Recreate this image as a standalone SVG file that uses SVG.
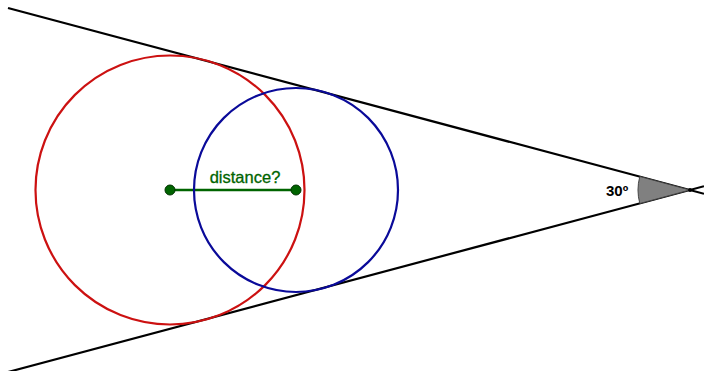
<svg xmlns="http://www.w3.org/2000/svg" width="704" height="371" viewBox="0 0 704 371">
<style>
.ln{stroke:#000;stroke-width:2.2;fill:none}
.circ{fill:none;stroke-width:2.2}
.pt{fill:#006400;stroke:#003300;stroke-width:1}
.lbl{font-family:"Liberation Sans",Arial,sans-serif;fill:#006400;font-size:16.5px;stroke:#006400;stroke-width:0.3}
</style>
<rect width="704" height="371" fill="#fff"/>
<g id="connectors">
<line class="ln" x1="8" y1="8" x2="704" y2="193.8"/>
<line class="ln" x1="8" y1="372" x2="704" y2="186.2"/>
<line x1="170" y1="190" x2="296" y2="190" stroke="#006400" stroke-width="2.5"/>
</g>
<g id="angle">
<path d="M690,190 L639.8,176.5 A52,52 0 0 0 639.8,203.5 Z" fill="#808080" stroke="#444" stroke-width="1"/>
<text x="606" y="196" font-family="Liberation Sans,Arial,sans-serif" font-weight="bold" font-size="15" fill="#000">30º</text>
</g>
<g id="red-circle"><circle class="circ" cx="170" cy="190" r="134.5" stroke="#cc1111"/></g>
<g id="blue-circle"><circle class="circ" cx="296" cy="190" r="102" stroke="#0a0a99"/></g>
<g id="points">
<circle class="pt" cx="170" cy="190" r="5"/>
<circle class="pt" cx="296" cy="190" r="5"/>
<circle cx="690" cy="190" r="2" fill="#000"/>
</g>
<g id="label"><text class="lbl" x="245" y="183" text-anchor="middle">distance?</text></g>
</svg>
